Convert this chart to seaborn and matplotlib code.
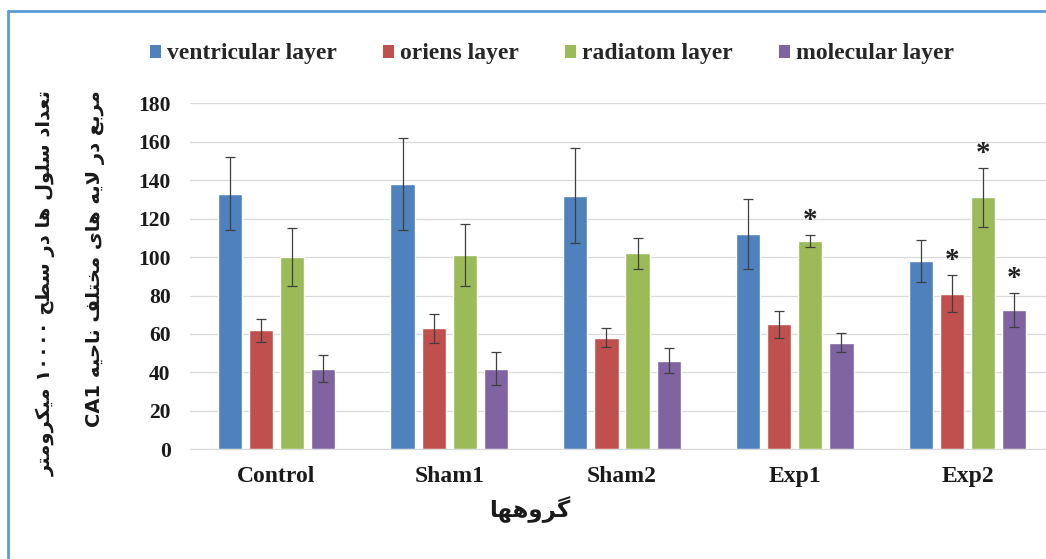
import numpy as np
import pandas as pd
import matplotlib
matplotlib.use("Agg")
import matplotlib.pyplot as plt
from matplotlib.lines import Line2D
from matplotlib.patches import Patch
import seaborn as sns

# ── Data ─────────────────────────────────────────────────────────────────
groups = ["Control", "Sham1", "Sham2", "Exp1", "Exp2"]
layers = ["ventricular layer", "oriens layer", "radiatom layer", "molecular layer"]

ventricular = [133, 138, 132, 112, 98]
oriens      = [62, 63, 58, 65, 81]
radiatom    = [100, 101, 102, 108.5, 131]
molecular   = [42, 42, 46, 55.5, 72.5]

ventricular_err = [19, 24, 24.5, 18, 11]
oriens_err      = [6, 7.5, 5, 7, 9.5]
radiatom_err    = [15, 16, 8, 3, 15.5]
molecular_err   = [7, 8.5, 6.5, 5, 9]

# significant bars (marked with *)
sig_groups = ["Exp1", "Exp2", "Exp2", "Exp2"]
sig_layers = ["radiatom layer", "oriens layer", "radiatom layer", "molecular layer"]

colors = ["#4F81BD", "#C0504D", "#9BBB59", "#8064A2"]

ylabel_1 = "تعداد سلول ها در سطح ۱۰۰۰۰ میکرومتر"
ylabel_2 = "مربع در لایه های مختلف ناحیه CA1"
xlabel = "گروهها"

# ── Minimal Arabic/Persian shaping (matplotlib has no bidi/shaping) ─────
FORMS = {
    "ا": ("\uFE8D", "\uFE8E", None, None),
    "ب": ("\uFE8F", "\uFE90", "\uFE91", "\uFE92"),
    "ت": ("\uFE95", "\uFE96", "\uFE97", "\uFE98"),
    "ح": ("\uFEA1", "\uFEA2", "\uFEA3", "\uFEA4"),
    "خ": ("\uFEA5", "\uFEA6", "\uFEA7", "\uFEA8"),
    "د": ("\uFEA9", "\uFEAA", None, None),
    "ر": ("\uFEAD", "\uFEAE", None, None),
    "س": ("\uFEB1", "\uFEB2", "\uFEB3", "\uFEB4"),
    "ط": ("\uFEC1", "\uFEC2", "\uFEC3", "\uFEC4"),
    "ع": ("\uFEC9", "\uFECA", "\uFECB", "\uFECC"),
    "ف": ("\uFED1", "\uFED2", "\uFED3", "\uFED4"),
    "ل": ("\uFEDD", "\uFEDE", "\uFEDF", "\uFEE0"),
    "م": ("\uFEE1", "\uFEE2", "\uFEE3", "\uFEE4"),
    "ن": ("\uFEE5", "\uFEE6", "\uFEE7", "\uFEE8"),
    "ه": ("\uFEE9", "\uFEEA", "\uFEEB", "\uFEEC"),
    "و": ("\uFEED", "\uFEEE", None, None),
    "ی": ("\uFEEF", "\uFEF0", "\uFEF3", "\uFEF4"),
    "ک": ("\uFB8E", "\uFB8F", "\uFB90", "\uFB91"),
    "گ": ("\uFB92", "\uFB93", "\uFB94", "\uFB95"),
}


def shape_word(word):
    out, i, n = [], 0, len(word)
    while i < n:
        c = word[i]
        if c not in FORMS:
            out.append(c)
            i += 1
            continue
        prev = word[i - 1] if i > 0 else None
        jp = prev in FORMS and FORMS[prev][2] is not None
        if c == "ل" and i + 1 < n and word[i + 1] == "ا":
            out.append("\uFEFC" if jp else "\uFEFB")
            i += 2
            continue
        nxt = word[i + 1] if i + 1 < n else None
        jn = FORMS[c][2] is not None and nxt in FORMS
        iso, fin, ini, med = FORMS[c]
        out.append(med if (jp and jn) else fin if jp else ini if jn else iso)
        i += 1
    return "".join(reversed(out))


def rtl(text):
    words = text.split(" ")
    return " ".join(shape_word(w) if any(ch in FORMS for ch in w) else w
                    for w in reversed(words))


# ── Long-form table for seaborn ──────────────────────────────────────────
means = [ventricular, oriens, radiatom, molecular]
errs = [ventricular_err, oriens_err, radiatom_err, molecular_err]
rows = []
for layer, m, e in zip(layers, means, errs):
    for g, v, s in zip(groups, m, e):
        rows.append({"group": g, "layer": layer, "count": v, "err": s})
df = pd.DataFrame(rows)

sns.set_style("white")
serif = ["Liberation Serif", "DejaVu Serif"]
arabic = ["DejaVu Sans"]

fig = plt.figure(figsize=(10.46, 5.59), dpi=100)
ax = fig.add_axes([190 / 1046, 1 - 449.3 / 559, 864 / 1046, 346 / 559])

sns.barplot(data=df, x="group", y="count", hue="layer", order=groups,
            hue_order=layers, palette=colors, errorbar=None, width=0.72,
            gap=0.22, saturation=1, legend=False, ax=ax)

# error bars + significance stars, positioned from the drawn bars
for layer, cont in zip(layers, ax.containers):
    sub = df[df["layer"] == layer].set_index("group").loc[groups]
    xs = [b.get_x() + b.get_width() / 2 for b in cont]
    ax.errorbar(xs, sub["count"], yerr=sub["err"], fmt="none",
                ecolor="#3F3F3F", elinewidth=0.9, capsize=3.5, capthick=0.9,
                zorder=3)
    for g, x in zip(groups, xs):
        for sg, sl in zip(sig_groups, sig_layers):
            if sg == g and sl == layer:
                top = sub.loc[g, "count"] + sub.loc[g, "err"]
                ax.text(x, top + 7.5, "*", ha="center", va="center",
                        fontsize=21, fontweight="bold", family=serif,
                        color="#222222")

ax.set_xlim(-0.5, len(groups) - 0.5)
ax.set_ylim(0, 180)
ax.set_yticks(np.arange(0, 181, 20))
ax.yaxis.grid(True, color="#D9D9D9", linewidth=0.9)
ax.set_axisbelow(True)
for side in ["top", "right", "left"]:
    ax.spines[side].set_visible(False)
ax.spines["bottom"].set_color("#D9D9D9")
ax.tick_params(axis="both", length=0)
ax.tick_params(axis="x", pad=12)
ax.tick_params(axis="y", pad=14)
ax.set_xlabel("")
ax.set_ylabel("")
for lab in ax.get_xticklabels():
    lab.set_fontfamily(serif)
    lab.set_fontweight("bold")
    lab.set_fontsize(17)
    lab.set_color("#1A1A1A")
for lab in ax.get_yticklabels():
    lab.set_fontfamily(serif)
    lab.set_fontweight("bold")
    lab.set_fontsize(15.5)
    lab.set_color("#1A1A1A")

# legend
handles = [Patch(facecolor=c, edgecolor="none") for c in colors]
fig.legend(handles, layers, loc="center", bbox_to_anchor=(552 / 1046, 1 - 54 / 559),
           ncol=4, frameon=False, handlelength=0.47, handleheight=0.47,
           handletextpad=0.25, columnspacing=1.95,
           prop={"family": serif, "weight": "bold", "size": 17})

# axis titles (Persian, right-to-left)
fig.text(46 / 1046, 1 - 90 / 559, rtl(ylabel_1), rotation=90, ha="center",
         va="top", fontsize=14, fontweight="bold", family=arabic,
         color="#1A1A1A")
fig.text(96 / 1046, 1 - 90 / 559, rtl(ylabel_2), rotation=90, ha="center",
         va="top", fontsize=14, fontweight="bold", family=arabic,
         color="#1A1A1A")
fig.text(530 / 1046, 1 - 510 / 559, rtl(xlabel), ha="center", va="center",
         fontsize=16.5, fontweight="bold", family=arabic, color="#1A1A1A")

# chart frame (blue border on left and top, as in the reference)
fig.add_artist(Line2D([8 / 1046, 8 / 1046], [0, 1 - 11 / 559],
                      color="#5B9BD5", linewidth=2, transform=fig.transFigure))
fig.add_artist(Line2D([8 / 1046, 1], [1 - 11 / 559, 1 - 11 / 559],
                      color="#5B9BD5", linewidth=2, transform=fig.transFigure))

fig.savefig("out.png", dpi=100)
print("saved out.png")
